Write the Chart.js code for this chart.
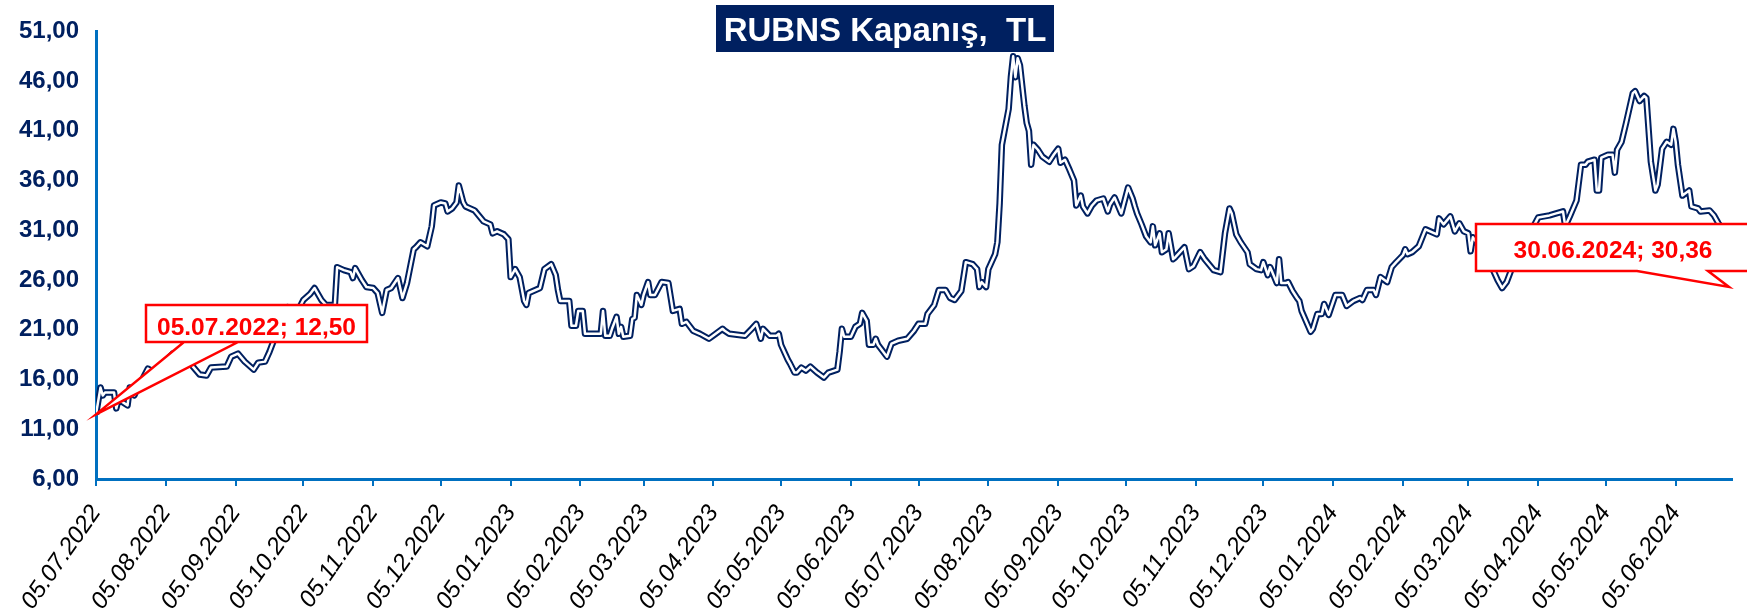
<!DOCTYPE html>
<html>
<head>
<meta charset="utf-8">
<script src="https://cdn.jsdelivr.net/npm/chart.js@4.4.1/dist/chart.umd.min.js"></script>
<style>
  html, body { margin: 0; padding: 0; background: #fff; }
  canvas { display: block; }
</style>
</head>
<body>
<canvas id="rubnsChart" width="1747" height="613"></canvas>
<script>
const titleText = 'RUBNS Kapanış,  TL';

// x axis tick labels (5th of each month)
const tickLabels = [
  '05.07.2022', '05.08.2022', '05.09.2022', '05.10.2022', '05.11.2022', '05.12.2022',
  '05.01.2023', '05.02.2023', '05.03.2023', '05.04.2023', '05.05.2023', '05.06.2023',
  '05.07.2023', '05.08.2023', '05.09.2023', '05.10.2023', '05.11.2023', '05.12.2023',
  '05.01.2024', '05.02.2024', '05.03.2024', '05.04.2024', '05.05.2024', '05.06.2024'
];

// closing prices, one row per month
const dates = [
  '05.07.2022','07.07.2022','08.07.2022','09.07.2022','13.07.2022','14.07.2022','15.07.2022','19.07.2022','20.07.2022','22.07.2022','24.07.2022','26.07.2022','28.07.2022','31.07.2022',
  '02.08.2022','05.08.2022','08.08.2022','11.08.2022','14.08.2022','17.08.2022','20.08.2022','23.08.2022','25.08.2022',
  '01.09.2022','03.09.2022','06.09.2022','09.09.2022','13.09.2022','15.09.2022','18.09.2022','20.09.2022','22.09.2022','24.09.2022','28.09.2022','30.09.2022',
  '03.10.2022','05.10.2022','08.10.2022','10.10.2022','13.10.2022','15.10.2022','19.10.2022','20.10.2022','23.10.2022','26.10.2022','27.10.2022','28.10.2022','31.10.2022',
  '02.11.2022','05.11.2022','07.11.2022','09.11.2022','11.11.2022','13.11.2022','16.11.2022','18.11.2022','20.11.2022','23.11.2022','24.11.2022','26.11.2022','29.11.2022',
  '01.12.2022','02.12.2022','05.12.2022','07.12.2022','08.12.2022','10.12.2022','12.12.2022','13.12.2022','15.12.2022','16.12.2022','20.12.2022','24.12.2022','27.12.2022','28.12.2022','30.12.2022',
  '02.01.2023','04.01.2023','05.01.2023','07.01.2023','09.01.2023','11.01.2023','12.01.2023','13.01.2023','18.01.2023','20.01.2023','23.01.2023','25.01.2023','26.01.2023','27.01.2023','31.01.2023',
  '01.02.2023','03.02.2023','04.02.2023','06.02.2023','07.02.2023','14.02.2023','15.02.2023','16.02.2023','18.02.2023','19.02.2023','21.02.2023','22.02.2023','23.02.2023','24.02.2023','27.02.2023','28.02.2023',
  '01.03.2023','02.03.2023','04.03.2023','05.03.2023','07.03.2023','08.03.2023','10.03.2023','13.03.2023','16.03.2023','18.03.2023','21.03.2023','22.03.2023','24.03.2023','27.03.2023','30.03.2023',
  '03.04.2023','06.04.2023','09.04.2023','10.04.2023','12.04.2023','19.04.2023','22.04.2023','24.04.2023','26.04.2023','27.04.2023','30.04.2023',
  '03.05.2023','04.05.2023','05.05.2023','07.05.2023','08.05.2023','09.05.2023','11.05.2023','12.05.2023','14.05.2023','16.05.2023','18.05.2023','21.05.2023','24.05.2023','26.05.2023','30.05.2023','31.05.2023',
  '01.06.2023','02.06.2023','05.06.2023','07.06.2023','09.06.2023','10.06.2023','12.06.2023','13.06.2023','15.06.2023','16.06.2023','17.06.2023','21.06.2023','23.06.2023','26.06.2023','30.06.2023',
  '03.07.2023','05.07.2023','08.07.2023','09.07.2023','12.07.2023','14.07.2023','17.07.2023','19.07.2023','21.07.2023','24.07.2023','26.07.2023','29.07.2023','31.07.2023',
  '01.08.2023','02.08.2023','04.08.2023','05.08.2023','08.08.2023','09.08.2023','10.08.2023','11.08.2023','14.08.2023','15.08.2023','16.08.2023','17.08.2023','18.08.2023','19.08.2023','21.08.2023','22.08.2023','23.08.2023','24.08.2023','25.08.2023','27.08.2023','29.08.2023',
  '01.09.2023','03.09.2023','05.09.2023','06.09.2023','08.09.2023','10.09.2023','12.09.2023','13.09.2023','15.09.2023','16.09.2023','18.09.2023','20.09.2023','22.09.2023','25.09.2023','27.09.2023','28.09.2023','30.09.2023',
  '03.10.2023','06.10.2023','08.10.2023','09.10.2023','10.10.2023','12.10.2023','14.10.2023','16.10.2023','17.10.2023','18.10.2023','20.10.2023','21.10.2023','23.10.2023','24.10.2023','26.10.2023','27.10.2023','31.10.2023',
  '02.11.2023','04.11.2023','07.11.2023','09.11.2023','13.11.2023','16.11.2023','18.11.2023','20.11.2023','21.11.2023','23.11.2023','25.11.2023','28.11.2023','29.11.2023',
  '02.12.2023','04.12.2023','05.12.2023','07.12.2023','08.12.2023','09.12.2023','11.12.2023','12.12.2023','13.12.2023','15.12.2023','16.12.2023','18.12.2023','20.12.2023','21.12.2023','22.12.2023','26.12.2023','27.12.2023','29.12.2023','31.12.2023',
  '01.01.2024','03.01.2024','06.01.2024','09.01.2024','11.01.2024','14.01.2024','17.01.2024','18.01.2024','20.01.2024','23.01.2024','24.01.2024','26.01.2024','29.01.2024','31.01.2024',
  '02.02.2024','05.02.2024','06.02.2024','07.02.2024','09.02.2024','12.02.2024','15.02.2024','17.02.2024','20.02.2024','21.02.2024','23.02.2024','26.02.2024','28.02.2024',
  '01.03.2024','03.03.2024','05.03.2024','06.03.2024','07.03.2024','08.03.2024','11.03.2024','14.03.2024','16.03.2024','18.03.2024','20.03.2024','22.03.2024','24.03.2024','27.03.2024','30.03.2024',
  '02.04.2024','05.04.2024','10.04.2024','13.04.2024','16.04.2024','17.04.2024','19.04.2024','22.04.2024','24.04.2024','26.04.2024','27.04.2024','30.04.2024',
  '01.05.2024','02.05.2024','03.05.2024','06.05.2024','08.05.2024','09.05.2024','10.05.2024','12.05.2024','14.05.2024','17.05.2024','18.05.2024','20.05.2024','22.05.2024','23.05.2024','25.05.2024','27.05.2024','28.05.2024','30.05.2024',
  '01.06.2024','03.06.2024','04.06.2024','05.06.2024','06.06.2024','08.06.2024','11.06.2024','12.06.2024','15.06.2024','16.06.2024','20.06.2024','22.06.2024','24.06.2024','26.06.2024','28.06.2024','30.06.2024'
];

const closes = [
  12.50, 15.2, 14.4, 14.7, 14.7, 13.1, 14.0, 13.4, 15.2, 14.4, 15.4, 16.2, 17.1, 16.7,
  17.2, 17.9, 18.6, 18.8, 18.1, 17.3, 16.5, 16.4, 17.2,
  17.3, 18.3, 18.6, 17.8, 17.0, 17.7, 17.8, 18.8, 20.0, 22.9, 23.3, 22.9,
  23.1, 24.0, 24.6, 25.2, 24.0, 23.5, 23.5, 27.3, 27.0, 26.8, 26.2, 27.2, 26.0,
  25.3, 25.2, 24.7, 22.7, 25.0, 25.2, 26.2, 24.2, 25.7, 29.1, 29.3, 29.8, 29.4,
  31.4, 33.5, 33.8, 33.7, 32.9, 33.2, 33.8, 35.5, 33.8, 33.4, 33.0, 31.9, 31.6, 30.7, 30.9,
  30.6, 30.1, 26.3, 27.1, 26.3, 23.9, 23.5, 24.7, 25.2, 27.1, 27.6, 26.5, 25.0, 23.9, 23.9,
  21.4, 21.4, 22.9, 22.9, 20.6, 20.6, 22.9, 20.4, 20.4, 21.1, 22.3, 20.6, 21.3, 20.3, 20.4, 22.1,
  22.2, 24.5, 23.5, 24.5, 25.8, 24.5, 24.5, 25.8, 25.7, 22.9, 23.1, 21.6, 21.8, 20.9, 20.6,
  20.1, 20.6, 21.1, 20.9, 20.6, 20.4, 21.1, 21.6, 20.1, 21.1, 20.4,
  20.4, 20.6, 19.5, 18.5, 18.0, 17.6, 16.7, 16.7, 17.2, 16.9, 17.3, 16.7, 16.2, 16.7, 17.0, 18.8,
  21.1, 20.3, 20.3, 21.3, 21.6, 22.7, 21.9, 19.5, 19.5, 20.1, 19.5, 18.3, 19.6, 19.9, 20.1,
  20.9, 21.6, 21.6, 22.6, 23.5, 25.0, 25.0, 24.2, 24.0, 24.9, 27.8, 27.6, 27.1,
  25.3, 25.8, 25.3, 27.1, 28.6, 29.8, 33.7, 39.6, 43.2, 46.4, 48.5, 46.4, 48.3, 47.6, 43.5, 41.8, 41.0, 37.6, 39.6, 39.1, 38.4,
  37.9, 38.6, 39.2, 37.8, 38.1, 37.1, 36.0, 33.5, 34.5, 33.4, 32.7, 33.5, 34.0, 34.2, 32.9, 33.6, 34.3,
  32.7, 35.3, 34.2, 33.4, 32.7, 31.6, 30.4, 29.8, 31.4, 29.5, 30.7, 28.8, 29.1, 30.7, 28.1, 28.3, 29.3,
  27.1, 27.4, 28.8, 28.1, 27.0, 26.8, 30.7, 33.2, 32.7, 30.6, 29.8, 28.8, 27.6,
  27.1, 27.0, 27.8, 26.5, 27.3, 26.8, 25.7, 28.1, 25.7, 25.7, 25.8, 24.9, 24.2, 23.9, 22.9, 20.8, 21.1, 22.6, 22.6,
  23.6, 22.5, 24.5, 24.5, 23.4, 23.9, 24.2, 24.0, 25.0, 25.0, 24.5, 26.3, 25.8, 27.3,
  27.8, 28.5, 29.1, 28.6, 28.8, 29.4, 31.1, 30.9, 30.6, 32.2, 31.6, 32.4, 30.9,
  31.7, 30.9, 30.7, 28.9, 30.3, 30.0, 29.0, 28.0, 27.0, 26.0, 25.2, 25.8, 27.0, 28.8, 30.0,
  31.0, 32.3, 32.5, 32.7, 32.9, 31.4, 32.4, 34.0, 37.6, 37.6, 37.9, 38.1,
  35.0, 35.0, 38.3, 38.6, 38.6, 36.8, 39.1, 39.9, 41.8, 44.8, 45.0, 44.0, 44.5, 44.3, 37.9, 35.0, 35.6, 39.2,
  39.9, 39.6, 41.2, 39.9, 37.6, 34.5, 35.0, 33.4, 33.2, 32.9, 33.0, 32.5, 31.7, 31.1, 31.2, 30.36
];

const navy = '#002060';
const axisBlue = '#0070C0';
const red = '#FF0000';
const fontFamily = "Arial, 'Liberation Sans', sans-serif";

// day number counted from the first date
function toDay(s) {
  const [d, m, y] = s.split('.').map(Number);
  return Date.UTC(y, m - 1, d) / 86400000;
}
const day0 = toDay(dates[0]);
const points = dates.map((d, i) => ({ x: toDay(d) - day0, y: closes[i] }));
const tickDays = tickLabels.map(t => toDay(t) - day0);
const lastDay = points[points.length - 1].x;

const fmt = v => v.toFixed(2).replace('.', ',');

// title box and the two red callouts, drawn over the line
const overlay = {
  id: 'overlay',
  afterDraw(chart) {
    const { ctx, scales: { x, y } } = chart;
    ctx.save();

    function callout(bx, by, bw, bh, p1, p2, tipX, tipY, text, baseY, textX) {
      ctx.beginPath();
      ctx.moveTo(bx, by);
      ctx.lineTo(bx + bw, by);
      ctx.lineTo(bx + bw, by + bh);
      ctx.lineTo(p2, by + bh);
      ctx.lineTo(tipX, tipY);
      ctx.lineTo(p1, by + bh);
      ctx.lineTo(bx, by + bh);
      ctx.closePath();
      ctx.fillStyle = '#fff';
      ctx.fill();
      ctx.lineWidth = 2.5;
      ctx.strokeStyle = red;
      ctx.lineJoin = 'miter';
      ctx.stroke();
      ctx.fillStyle = red;
      ctx.font = 'bold 24.5px ' + fontFamily;
      ctx.textAlign = 'center';
      ctx.textBaseline = 'alphabetic';
      ctx.fillText(text, textX, baseY);
    }

    // first point
    const t1x = x.getPixelForValue(points[0].x);
    const t1y = y.getPixelForValue(points[0].y);
    callout(146, 305, 221, 37, 238, 184, t1x, t1y,
      dates[0] + '; ' + fmt(closes[0]), 335, 256.5);

    // last point (pointer goes off to the right, as in the source)
    const t2x = x.getPixelForValue(lastDay) - 3;
    callout(1476, 224, 290, 47, 1637, 1708, t2x, 287,
      dates[dates.length - 1] + '; ' + fmt(closes[closes.length - 1]), 258, 1613);

    // title
    ctx.fillStyle = navy;
    ctx.fillRect(716, 5, 338, 47);
    ctx.fillStyle = '#fff';
    ctx.font = 'bold 33px ' + fontFamily;
    ctx.textAlign = 'center';
    ctx.textBaseline = 'alphabetic';
    ctx.fillText(titleText, 885, 41);
    ctx.restore();
  }
};

const ctx = document.getElementById('rubnsChart').getContext('2d');
new Chart(ctx, {
  type: 'line',
  data: {
    datasets: [{
      label: 'inner',
      data: points,
      borderColor: '#ffffff',
      borderWidth: 2.5,
      pointRadius: 0,
      tension: 0,
      borderJoinStyle: 'round',
      order: 1
    }, {
      label: 'RUBNS',
      data: points,
      borderColor: navy,
      borderWidth: 6.5,
      pointRadius: 0,
      tension: 0,
      borderJoinStyle: 'round',
      order: 2
    }]
  },
  options: {
    responsive: false,
    animation: false,
    layout: { padding: { top: 20, right: 15, left: 0, bottom: 0 } },
    plugins: {
      legend: { display: false },
      tooltip: { enabled: false }
    },
    scales: {
      x: {
        type: 'linear',
        min: 0,
        max: lastDay,
        afterBuildTicks: s => { s.ticks = tickDays.map(v => ({ value: v })); },
        afterFit: s => { s.height = 134; },
        ticks: {
          autoSkip: false,
          minRotation: 55,
          maxRotation: 55,
          padding: 14,
          color: '#000',
          font: { family: fontFamily, size: 24, style: 'italic' },
          callback: (v, i) => tickLabels[i]
        },
        grid: {
          display: true,
          drawOnChartArea: false,
          drawTicks: true,
          tickLength: 7,
          color: axisBlue,
          lineWidth: 2
        },
        border: { display: true, color: axisBlue, width: 3 }
      },
      y: {
        min: 6,
        max: 51,
        afterFit: s => { s.width = 96; },
        ticks: {
          stepSize: 5,
          padding: 17,
          color: navy,
          font: { family: fontFamily, size: 24, weight: 'bold' },
          callback: v => fmt(v)
        },
        grid: { display: false, drawTicks: false },
        border: { display: true, color: axisBlue, width: 3 }
      }
    }
  },
  plugins: [overlay]
});
</script>
</body>
</html>
